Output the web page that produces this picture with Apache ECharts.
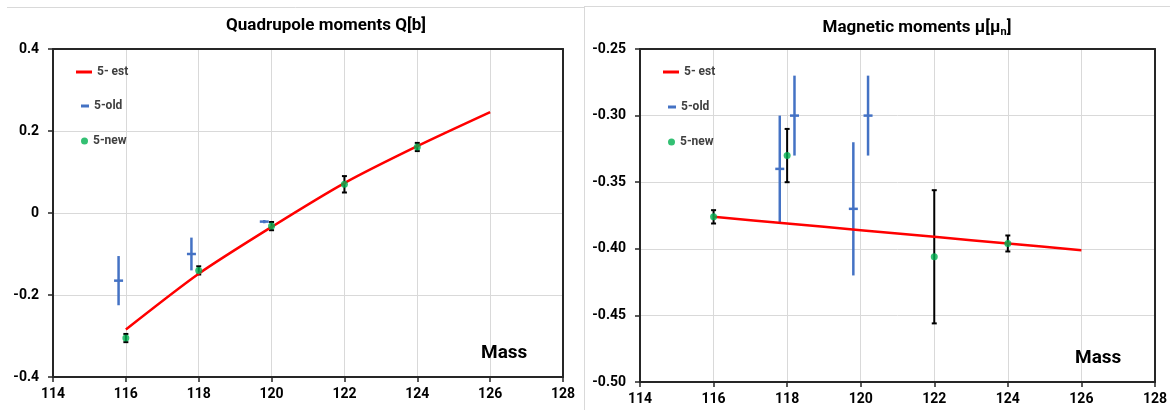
<!DOCTYPE html>
<html>
<head>
<meta charset="utf-8">
<script src="https://cdn.jsdelivr.net/npm/echarts@6/dist/echarts.min.js"></script>
<style>
    html, body {margin: 0; padding: 0; background: #ffffff;}
    #result {width: 1170px; height: 410px;}
</style>
</head>
<body>
<div id="result"></div>
<script>
// x ticks
var mass_ticks = [114, 116, 118, 120, 122, 124, 126, 128];

// Quadrupole moments Q[b]
var quad_est_mass = [116, 118, 120, 122, 124, 126];
var quad_est = [-0.284, -0.148, -0.034, 0.073, 0.163, 0.246];
var quad_new_mass = [116, 118, 120, 122, 124];
var quad_new = [-0.305, -0.140, -0.032, 0.070, 0.161];
var quad_new_err = [0.010, 0.010, 0.010, 0.020, 0.010];
var quad_old_mass = [115.8, 117.8, 119.8];
var quad_old = [-0.165, -0.100, -0.021];
var quad_old_err = [0.060, 0.040, 0.004];
var quad_ticks = [-0.4, -0.2, 0, 0.2, 0.4];

// Magnetic moments mu[mu_n]
var mag_est_mass = [116, 118, 120, 122, 124, 126];
var mag_est = [-0.376, -0.381, -0.386, -0.391, -0.396, -0.401];
var mag_new_mass = [116, 118, 122, 124];
var mag_new = [-0.376, -0.330, -0.406, -0.396];
var mag_new_err = [0.005, 0.020, 0.050, 0.006];
var mag_old_mass = [117.8, 118.2, 119.8, 120.2];
var mag_old = [-0.340, -0.300, -0.370, -0.300];
var mag_old_err = [0.040, 0.030, 0.050, 0.030];
var mag_ticks = [-0.50, -0.45, -0.40, -0.35, -0.30, -0.25];

var RED = '#ff0000', BLUE = '#4472c4', GREEN = '#00b050';
var FONT = 'Roboto';

function zip(xs, ys, es){
    var out = [];
    for (var i = 0; i < xs.length; i++){
        if (es) out.push([xs[i], ys[i], es[i]]);
        else out.push([xs[i], ys[i]]);
    }
    return out;
}

// black error bar with small caps
function render_new_err(params, api){
    var x = api.value(0), v = api.value(1), e = api.value(2);
    var top = api.coord([x, v + e]);
    var bot = api.coord([x, v - e]);
    var st = {stroke: '#000000', lineWidth: 2};
    return {type: 'group', children: [
        {type: 'line', shape: {x1: top[0], y1: top[1], x2: bot[0], y2: bot[1]}, style: st},
        {type: 'line', shape: {x1: top[0] - 2.5, y1: top[1], x2: top[0] + 2.5, y2: top[1]}, style: st},
        {type: 'line', shape: {x1: bot[0] - 2.5, y1: bot[1], x2: bot[0] + 2.5, y2: bot[1]}, style: st}
    ]};
}

// blue dash marker with vertical error bar
function render_old_err(params, api){
    var x = api.value(0), v = api.value(1), e = api.value(2);
    var top = api.coord([x, v + e]);
    var bot = api.coord([x, v - e]);
    var mid = api.coord([x, v]);
    var st = {stroke: BLUE, lineWidth: 2.5};
    return {type: 'group', children: [
        {type: 'line', shape: {x1: top[0], y1: top[1], x2: bot[0], y2: bot[1]}, style: st},
        {type: 'line', shape: {x1: mid[0] - 4.5, y1: mid[1], x2: mid[0] + 4.5, y2: mid[1]}, style: st}
    ]};
}

// main axes (bottom/left) plus plain frame axes (top/right)
function make_axes(idx, ymin, ymax, yint, yfmt){
    var xmin = mass_ticks[0], xmax = mass_ticks[mass_ticks.length - 1];
    var axis_line = {show: true, onZero: false, lineStyle: {color: '#262626', width: 2}};
    var tick = {show: true, inside: false, length: 5, lineStyle: {color: '#262626', width: 1.5}};
    var split = {show: true, lineStyle: {color: '#d9d9d9', width: 1}};
    var lbl = {color: '#000000', fontFamily: FONT, fontWeight: 'bold', fontSize: 14};
    var x = {
        type: 'value', gridIndex: idx, position: 'bottom', min: xmin, max: xmax, interval: 2,
        axisLine: axis_line, axisTick: tick, splitLine: split,
        axisLabel: Object.assign({margin: 10}, lbl)
    };
    var y = {
        type: 'value', gridIndex: idx, position: 'left', min: ymin, max: ymax, interval: yint,
        axisLine: axis_line, axisTick: tick, splitLine: split,
        axisLabel: Object.assign({margin: 14, formatter: yfmt}, lbl)
    };
    var plain = {axisLine: axis_line, axisTick: {show: false}, axisLabel: {show: false}, splitLine: {show: false}};
    var x_top = Object.assign({type: 'value', gridIndex: idx, position: 'top', min: xmin, max: xmax}, plain);
    var y_right = Object.assign({type: 'value', gridIndex: idx, position: 'right', min: ymin, max: ymax}, plain);
    return [x, y, x_top, y_right];
}

function legend_item(left, top, name, icon, w, h, color){
    return {
        left: left, top: top, padding: 0, itemWidth: w, itemHeight: h, itemGap: 0,
        selectedMode: false, orient: 'vertical',
        textStyle: {fontFamily: FONT, fontWeight: 'bold', fontSize: 12, color: '#404040', lineHeight: 14},
        data: [{name: name, icon: icon, itemStyle: {color: color, borderWidth: 0}}]
    };
}

function build_series(xi, yi, est_x, est_y, new_x, new_y, new_e, old_x, old_y, old_e){
    return [
        {
            name: '5-old', type: 'custom', xAxisIndex: xi, yAxisIndex: yi,
            renderItem: render_old_err, itemStyle: {color: BLUE},
            encode: {x: 0, y: 1}, data: zip(old_x, old_y, old_e), z: 2
        },
        {
            name: '5-new err', type: 'custom', xAxisIndex: xi, yAxisIndex: yi,
            renderItem: render_new_err,
            encode: {x: 0, y: 1}, data: zip(new_x, new_y, new_e), z: 2
        },
        {
            name: '5- est', type: 'line', xAxisIndex: xi, yAxisIndex: yi,
            data: zip(est_x, est_y), showSymbol: false, symbol: 'none', smooth: 0.25,
            itemStyle: {color: RED}, lineStyle: {color: RED, width: 2.5}, z: 3
        },
        {
            name: '5-new', type: 'scatter', xAxisIndex: xi, yAxisIndex: yi,
            data: zip(new_x, new_y), symbol: 'circle', symbolSize: 7,
            itemStyle: {color: GREEN}, z: 4
        }
    ];
}

function show_chart(){
    var myChart = echarts.init(document.getElementById('result'), null, {renderer: 'canvas'});

    var ax0 = make_axes(0, quad_ticks[0], quad_ticks[quad_ticks.length - 1], 0.2, function(v){
        return String(Math.round(v * 10) / 10);
    });
    var ax1 = make_axes(1, mag_ticks[0], mag_ticks[mag_ticks.length - 1], 0.05, function(v){
        return v.toFixed(2);
    });

    // xAxis: [0 left-bottom, 1 right-bottom, 2 left-top, 3 right-top]; same for yAxis
    var series = build_series(0, 0, quad_est_mass, quad_est, quad_new_mass, quad_new, quad_new_err,
        quad_old_mass, quad_old, quad_old_err)
        .concat(build_series(1, 1, mag_est_mass, mag_est, mag_new_mass, mag_new, mag_new_err,
        mag_old_mass, mag_old, mag_old_err));

    var title_style = {fontFamily: FONT, fontWeight: 'bold', fontSize: 17, color: '#000000'};
    var mass_style = {fontFamily: FONT, fontWeight: 'bold', fontSize: 19, color: '#000000'};

    var option = {
        animation: false,
        backgroundColor: '#ffffff',
        title: [
            {text: 'Quadrupole moments Q[b]', left: 326, top: 17, textAlign: 'center', padding: 0, textStyle: title_style},
            {
                text: '{a|Magnetic moments μ[μ}{s|n}{a|]}', left: 917, top: 17, textAlign: 'center', padding: 0,
                textStyle: {rich: {
                    a: title_style,
                    s: {fontFamily: FONT, fontWeight: 'bold', fontSize: 11, color: '#000000', padding: [10, 0, 0, 0]}
                }}
            },
            {text: 'Mass', left: 481, top: 344, padding: 0, textStyle: mass_style},
            {text: 'Mass', left: 1075, top: 349, padding: 0, textStyle: mass_style}
        ],
        legend: [
            legend_item(76, 65, '5- est', 'rect', 16, 3, RED),
            legend_item(81, 99, '5-old', 'rect', 8, 3, BLUE),
            legend_item(81, 134, '5-new', 'circle', 7, 7, GREEN),
            legend_item(663, 65, '5- est', 'rect', 16, 3, RED),
            legend_item(668, 100, '5-old', 'rect', 8, 3, BLUE),
            legend_item(668, 135, '5-new', 'circle', 7, 7, GREEN)
        ],
        grid: [
            {left: 53, top: 49, width: 510, height: 328, containLabel: false},
            {left: 640, top: 49, width: 517, height: 333, containLabel: false}
        ],
        xAxis: [ax0[0], ax1[0], ax0[2], ax1[2]],
        yAxis: [ax0[1], ax1[1], ax0[3], ax1[3]],
        // light frames round the two charts
        graphic: [
            {type: 'line', shape: {x1: 7, y1: 7.5, x2: 584, y2: 7.5}, style: {stroke: '#d9d9d9', lineWidth: 1}},
            {type: 'line', shape: {x1: 584.5, y1: 7, x2: 584.5, y2: 410}, style: {stroke: '#d9d9d9', lineWidth: 1}},
            {type: 'line', shape: {x1: 584, y1: 6.5, x2: 1170, y2: 6.5}, style: {stroke: '#d9d9d9', lineWidth: 1}}
        ],
        series: series
    };
    myChart.setOption(option);
}

show_chart();
</script>
</body>
</html>
